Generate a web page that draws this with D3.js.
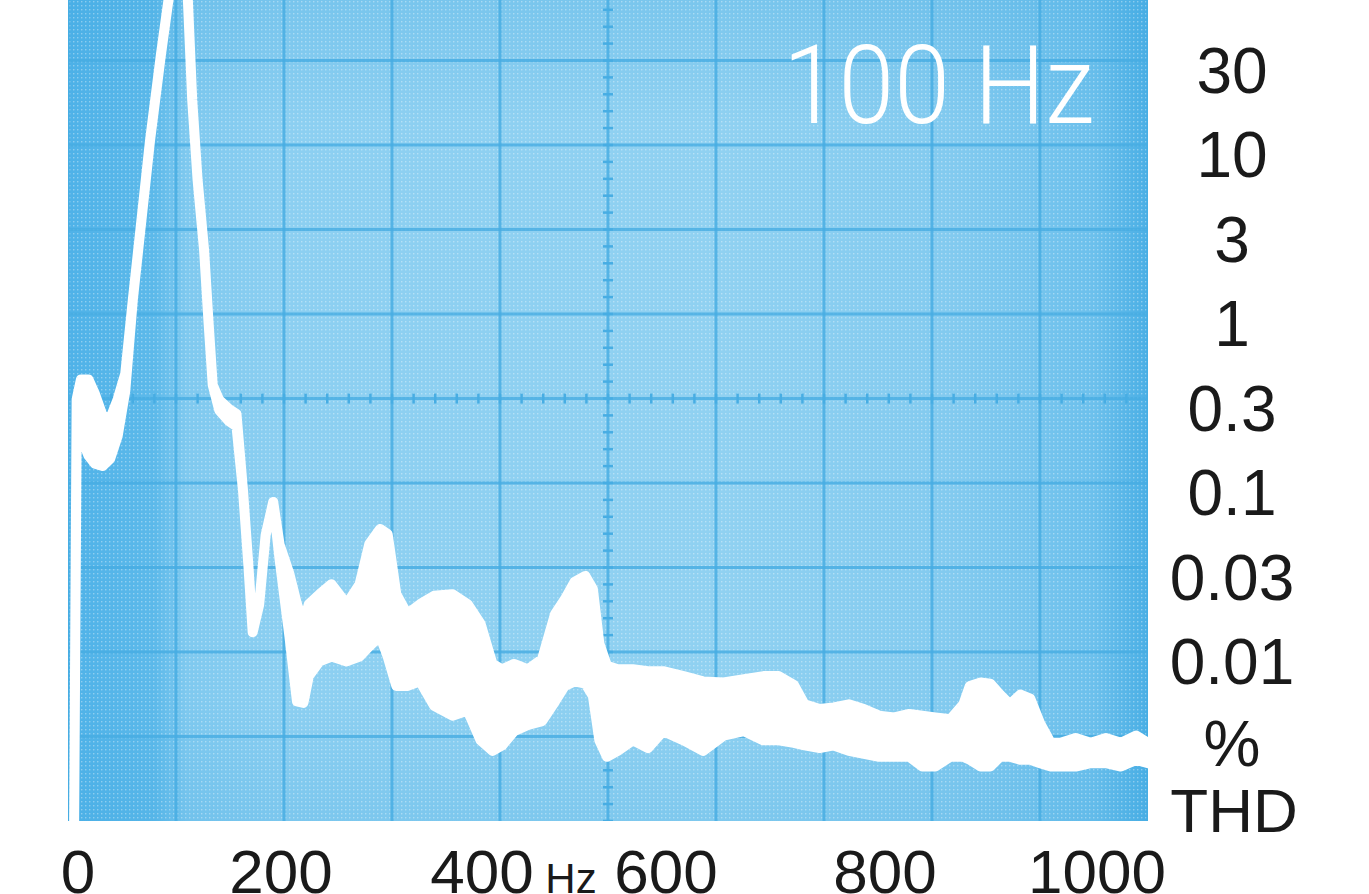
<!DOCTYPE html>
<html><head><meta charset="utf-8">
<script src="https://cdn.jsdelivr.net/npm/d3@7"></script>
<style>html,body{margin:0;padding:0;background:#fff;overflow:hidden}</style>
</head><body>
<svg id="chart" width="1369" height="894"></svg>
<script>
// Frequency (Hz) of each reading of the THD trace
const freqs = [5.6, 8, 12, 19, 25, 32, 39, 46, 53, 60, 67, 76, 86, 93, 105, 111, 115, 120, 126, 130, 134,
  140, 149, 156, 162, 167, 171, 177, 183, 190, 196, 205, 212, 218, 223, 233, 244, 258, 270, 279, 289, 296,
  304, 314, 326, 339, 356, 370, 382, 393, 402, 413, 426, 439, 451, 460, 469, 479, 486, 492, 499, 509, 523,
  537, 551, 570, 588, 607, 626, 644, 658, 672, 682, 696, 709, 723, 737, 751, 765, 779, 791, 803, 817, 829,
  835, 845, 854, 863, 872, 882, 891, 900, 910, 919, 933, 947, 961, 975, 989, 1000];
// Upper edge of the trace band (% THD)
const upper = [0.00083, 0.313, 0.41, 0.41, 0.336, 0.25, 0.24, 0.313, 0.443, 1.21, 3.14, 10.7, 34.1, 72, 133, 72, 18.5, 6.2, 2.39, 0.92, 0.38,
  0.31, 0.274, 0.256, 0.091, 0.0327, 0.0131, 0.019, 0.0492, 0.0772, 0.043, 0.029, 0.0192, 0.0147, 0.0192, 0.022, 0.0252, 0.0192, 0.0252, 0.0436, 0.0535, 0.0498,
  0.022, 0.0168, 0.0192, 0.0215, 0.022, 0.0192, 0.0147, 0.0085, 0.0079, 0.0085, 0.0079, 0.0091, 0.0168, 0.0205, 0.026, 0.0282, 0.0236, 0.0112, 0.0083, 0.0079, 0.0079,
  0.0077, 0.0077, 0.0072, 0.0067, 0.0066, 0.0069, 0.0072, 0.0072, 0.0064, 0.0049, 0.0046, 0.0047, 0.0049, 0.0046, 0.0042, 0.0041, 0.0043, 0.0042, 0.0041, 0.0040, 0.0049,
  0.0063, 0.0066, 0.0065, 0.0056, 0.0049, 0.0056, 0.0053, 0.0038, 0.0029, 0.0029, 0.0031, 0.0029, 0.0031, 0.0029, 0.0032, 0.0029];
// Lower edge of the trace band (% THD)
const lower = [0.00083, 0.190, 0.19, 0.145, 0.130, 0.126, 0.139, 0.190, 0.35, 1.21, 3.14, 10.7, 34.1, 72, 133, 72, 18.5, 6.2, 2.39, 0.92, 0.38,
  0.27, 0.232, 0.216, 0.091, 0.0327, 0.0131, 0.019, 0.0492, 0.0772, 0.035, 0.0124, 0.0051, 0.0050, 0.0072, 0.0088, 0.0094, 0.0088, 0.0094, 0.0108, 0.0124, 0.0094,
  0.0063, 0.0063, 0.0067, 0.0048, 0.0042, 0.0045, 0.0030, 0.0026, 0.0028, 0.0034, 0.0037, 0.0039, 0.0051, 0.0063, 0.0067, 0.0065, 0.0055, 0.0030, 0.0024, 0.0026, 0.0030,
  0.0027, 0.0034, 0.0030, 0.0026, 0.0032, 0.0034, 0.0030, 0.0030, 0.0029, 0.0028, 0.0027, 0.0028, 0.0026, 0.0025, 0.0024, 0.0024, 0.0024, 0.0021, 0.0021, 0.0024, 0.0024,
  0.0023, 0.0021, 0.0021, 0.0024, 0.0024, 0.0023, 0.0023, 0.0022, 0.0021, 0.0021, 0.0021, 0.0022, 0.0022, 0.0021, 0.0023, 0.0022];

const yTickValues = [31.6, 10, 3.16, 1, 0.316, 0.1, 0.0316, 0.01, 0.00316];
const yTickLabels = ["30", "10", "3", "1", "0.3", "0.1", "0.03", "0.01", "%"];
const yAxisTitle = "THD";
const xTickValues = [0, 200, 400, 600, 800, 1000];
const xTickLabels = ["0", "200", "400", "600", "800", "1000"];
const xUnit = "Hz";
const titleText = "100 Hz";

const data = freqs.map((f, i) => ({f, hi: upper[i], lo: lower[i]}));

const svg = d3.select("#chart");
const plot = {left: 68, right: 1148, top: 0, bottom: 821};

const x = d3.scaleLinear().domain([0, 1000]).range([plot.left, plot.right]);
const y = d3.scaleLog().domain([0.001, 72.1]).range([plot.bottom, plot.top]);
// label placement scale for the printed frequency numbers
const xLabel = d3.scaleLinear().domain(xTickValues).range([78, 281, 482, 666, 885, 1097]);

const defs = svg.append("defs");
const grad = defs.append("linearGradient").attr("id", "bg").attr("x1", 0).attr("x2", 1).attr("y1", 0).attr("y2", 0);
[[0, "#4fb2e8"], [0.08, "#5cb9ea"], [0.11, "#7fc9ef"], [0.2, "#8ccff1"], [0.6, "#90d1f1"], [0.82, "#82caef"], [0.95, "#6cc0ec"], [1, "#4aafe5"]]
  .forEach(([o, c]) => grad.append("stop").attr("offset", o).attr("stop-color", c));
const vgrad = defs.append("linearGradient").attr("id", "bgv").attr("x1", 0).attr("x2", 0).attr("y1", 0).attr("y2", 1);
[[0, "#3aa6e0", 0.25], [0.15, "#3aa6e0", 0.0], [0.85, "#3aa6e0", 0.0], [1, "#3aa6e0", 0.2]]
  .forEach(([o, c, op]) => vgrad.append("stop").attr("offset", o).attr("stop-color", c).attr("stop-opacity", op));
const pat = defs.append("pattern").attr("id", "dots").attr("width", 4).attr("height", 4).attr("patternUnits", "userSpaceOnUse");
pat.append("rect").attr("x", 1).attr("y", 1).attr("width", 1.4).attr("height", 1.4).attr("fill", "#ffffff").attr("opacity", 0.35);
defs.append("clipPath").attr("id", "clip").append("rect")
  .attr("x", plot.left).attr("y", plot.top).attr("width", plot.right - plot.left).attr("height", plot.bottom - plot.top);

const g = svg.append("g").attr("clip-path", "url(#clip)");
g.append("rect").attr("x", plot.left).attr("y", plot.top).attr("width", plot.right - plot.left).attr("height", plot.bottom - plot.top).attr("fill", "url(#bg)");
g.append("rect").attr("x", plot.left).attr("y", plot.top).attr("width", plot.right - plot.left).attr("height", plot.bottom - plot.top).attr("fill", "url(#bgv)");
g.append("rect").attr("x", plot.left).attr("y", plot.top).attr("width", plot.right - plot.left).attr("height", plot.bottom - plot.top).attr("fill", "url(#dots)");

const gridColor = "#47ade3";
// vertical grid lines every 100 Hz
g.selectAll("line.vg").data(d3.range(0, 1001, 100)).join("line").attr("class", "vg")
  .attr("x1", d => x(d)).attr("x2", d => x(d)).attr("y1", plot.top).attr("y2", plot.bottom)
  .attr("stroke", gridColor).attr("stroke-width", 3).attr("opacity", 0.8);
// horizontal grid lines at half decades
g.selectAll("line.hg").data(yTickValues).join("line").attr("class", "hg")
  .attr("x1", plot.left).attr("x2", plot.right).attr("y1", d => y(d)).attr("y2", d => y(d))
  .attr("stroke", gridColor).attr("stroke-width", 3).attr("opacity", 0.8);
// minor ticks on the centre lines
g.selectAll("line.mx").data(d3.range(0, 1001, 20)).join("line").attr("class", "mx")
  .attr("x1", d => x(d)).attr("x2", d => x(d)).attr("y1", y(0.316) - 5).attr("y2", y(0.316) + 5)
  .attr("stroke", gridColor).attr("stroke-width", 2.5);
g.selectAll("line.my").data(d3.range(0, 49).map(k => 0.001 * Math.pow(10, k / 10))).join("line").attr("class", "my")
  .attr("x1", x(500) - 5).attr("x2", x(500) + 5).attr("y1", d => y(d)).attr("y2", d => y(d))
  .attr("stroke", gridColor).attr("stroke-width", 2.5);

// the trace
const area = d3.area().x(d => x(d.f)).y0(d => y(d.lo)).y1(d => y(d.hi)).curve(d3.curveLinear);
g.append("path").datum(data).attr("d", area)
  .attr("fill", "#ffffff").attr("stroke", "#ffffff").attr("stroke-width", 10)
  .attr("stroke-linejoin", "round").attr("stroke-linecap", "round");

// title inside the screen
svg.append("text").attr("x", 783).attr("y", 123).text(titleText)
  .attr("font-family", "Roboto, Liberation Sans, Arial, sans-serif").attr("font-weight", 300).attr("font-size", 110)
  .attr("fill", "#ffffff").attr("textLength", 311).attr("lengthAdjust", "spacingAndGlyphs");

// right-hand % labels
const labelFont = "Liberation Sans, Arial, Helvetica, sans-serif";
svg.selectAll("text.yl").data(yTickValues).join("text").attr("class", "yl")
  .attr("x", 1232).attr("y", (d, i) => y(d) + (i === yTickValues.length - 1 ? 6 : 9)).attr("dy", "0.36em")
  .attr("text-anchor", "middle").attr("font-family", labelFont).attr("font-size", 64).attr("fill", "#1a1a1a")
  .text((d, i) => yTickLabels[i]);
svg.append("text").attr("x", 1234).attr("y", y(0.001) - 11).attr("dy", "0.36em")
  .attr("text-anchor", "middle").attr("font-family", labelFont).attr("font-size", 62).attr("fill", "#1a1a1a")
  .text(yAxisTitle);

// bottom frequency labels
svg.selectAll("text.xl").data(xTickValues).join("text").attr("class", "xl")
  .attr("x", d => xLabel(d)).attr("y", 893)
  .attr("text-anchor", "middle").attr("font-family", labelFont).attr("font-size", 62).attr("fill", "#1a1a1a")
  .text((d, i) => xTickLabels[i]);
svg.append("text").attr("x", (xLabel(400) + xLabel(600)) / 2 - 3).attr("y", 893)
  .attr("text-anchor", "middle").attr("font-family", labelFont).attr("font-size", 42).attr("fill", "#1a1a1a")
  .text(xUnit);
</script>
</body></html>
